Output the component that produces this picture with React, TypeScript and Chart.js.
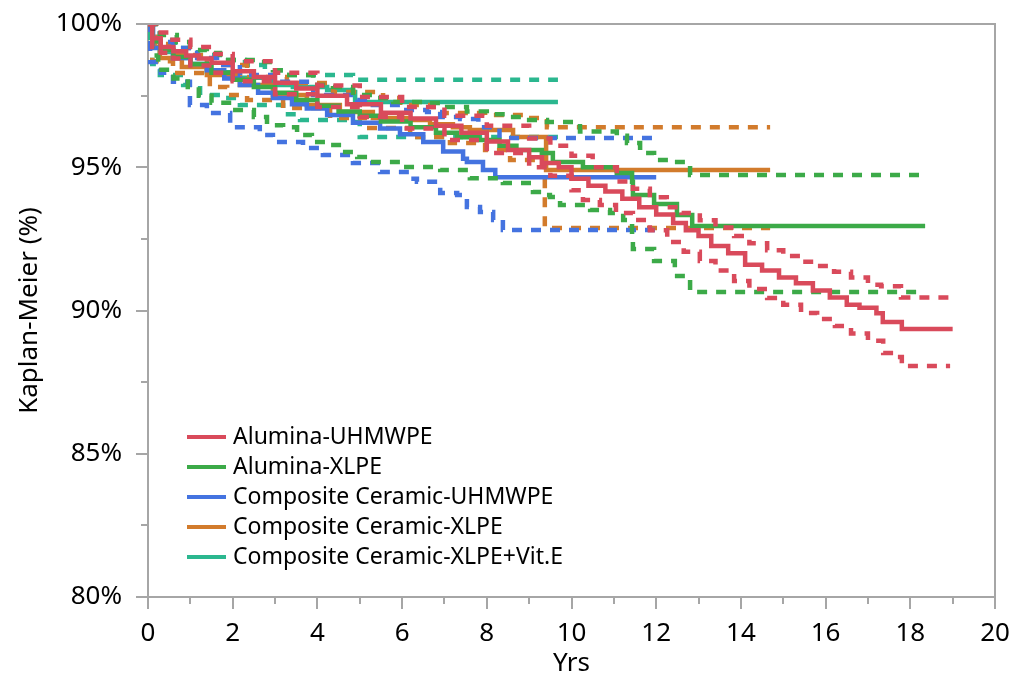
import React, { useEffect, useRef } from 'react';
import { Chart, registerables } from 'chart.js';

Chart.register(...registerables);

const FONT = '"Noto Sans", "Open Sans", sans-serif';

const seriesNames = [
  'Alumina-UHMWPE',
  'Alumina-XLPE',
  'Composite Ceramic-UHMWPE',
  'Composite Ceramic-XLPE',
  'Composite Ceramic-XLPE+Vit.E',
];
const seriesColors = ['#d94a5b', '#3caa48', '#4473e0', '#d27b2c', '#2bb78f'];

const xTickLabels = ['0', '2', '4', '6', '8', '10', '12', '14', '16', '18', '20'];
const yTickLabels = ['80%', '85%', '90%', '95%', '100%'];

// Alumina-UHMWPE
const aluUhmwpeYrs = [0, 0.1, 0.3, 0.6, 0.9, 1.2, 1.5, 2.0, 2.5, 3.0, 3.5, 4.0, 4.7, 5.5, 6.2, 6.8, 7.4, 8.0, 8.5, 9.0, 9.3, 9.7, 10.0, 10.4, 10.8, 11.2, 11.6, 12.0, 12.4, 12.7, 13.0, 13.3, 13.7, 14.1, 14.5, 14.9, 15.3, 15.7, 16.1, 16.5, 16.8, 17.2, 17.35, 17.8, 19.0];
const aluUhmwpeKM = [100, 99.5, 99.2, 99.05, 98.9, 98.8, 98.65, 98.35, 98.15, 97.95, 97.75, 97.5, 97.2, 96.9, 96.7, 96.45, 96.2, 95.9, 95.6, 95.35, 95.15, 95.0, 94.6, 94.35, 94.15, 93.9, 93.6, 93.35, 93.05, 92.8, 92.6, 92.25, 92.0, 91.6, 91.4, 91.15, 90.95, 90.7, 90.45, 90.2, 90.1, 89.9, 89.6, 89.35, 89.35];
const aluUhmwpeHiYrs = [0, 0.2, 0.5, 1.0, 1.5, 2.0, 3.0, 4.0, 5.0, 6.0, 7.0, 8.0, 9.0, 9.5, 10.0, 10.5, 11.07, 11.45, 11.85, 12.25, 12.6, 13.03, 13.4, 13.84, 14.2, 14.62, 15.0, 15.42, 15.8, 16.2, 16.6, 17.0, 17.31, 17.78, 18.94];
const aluUhmwpeHi = [100, 99.7, 99.45, 99.2, 98.95, 98.7, 98.3, 97.85, 97.45, 97.1, 96.8, 96.45, 96.0, 95.75, 95.4, 95.0, 94.5, 94.25, 93.95, 93.6, 93.4, 93.15, 92.9, 92.6, 92.35, 92.1, 91.9, 91.7, 91.55, 91.35, 91.15, 90.9, 90.85, 90.45, 90.45];
const aluUhmwpeLoYrs = [0, 0.1, 0.3, 0.6, 1.0, 1.5, 2.0, 3.0, 4.0, 5.0, 6.0, 7.0, 8.0, 9.0, 9.5, 10.0, 10.27, 10.67, 11.05, 11.45, 11.85, 12.26, 12.65, 13.03, 13.4, 13.84, 14.2, 14.62, 15.0, 15.42, 15.8, 16.22, 16.6, 17.0, 17.36, 17.76, 17.8, 18.94];
const aluUhmwpeLo = [100, 99.2, 99.0, 98.8, 98.55, 98.3, 98.0, 97.55, 97.1, 96.75, 96.35, 95.95, 95.5, 95.0, 94.7, 94.2, 93.86, 93.68, 93.4, 93.16, 92.8, 92.39, 92.05, 91.73, 91.4, 91.03, 90.75, 90.44, 90.2, 89.91, 89.7, 89.46, 89.2, 88.94, 88.52, 88.38, 88.06, 88.06];

// Alumina-XLPE
const aluXlpeYrs = [0, 0.1, 0.3, 0.6, 1.0, 1.5, 2.0, 2.5, 3.0, 3.5, 4.0, 4.5, 5.0, 5.5, 6.2, 6.8, 7.3, 7.8, 8.3, 8.7, 9.3, 9.56, 10.27, 11.07, 11.43, 11.45, 11.95, 12.49, 12.85, 18.35];
const aluXlpeKM = [100, 99.4, 99.1, 98.85, 98.6, 98.3, 98.05, 97.8, 97.6, 97.35, 97.15, 96.95, 96.8, 96.6, 96.4, 96.2, 96.05, 95.95, 95.75, 95.6, 95.5, 95.18, 95.0, 94.8, 94.49, 94.03, 93.72, 93.33, 92.95, 92.95];
const aluXlpeHiYrs = [0, 0.28, 0.68, 0.99, 1.39, 1.7, 2.57, 2.95, 3.19, 3.9, 4.37, 4.84, 5.31, 5.79, 6.59, 6.9, 7.53, 8.0, 8.55, 9.0, 9.42, 10.2, 11.07, 11.31, 11.62, 11.95, 12.33, 12.8, 18.35];
const aluXlpeHi = [100, 99.62, 99.37, 99.09, 98.99, 98.74, 98.67, 98.39, 98.22, 97.87, 97.8, 97.52, 97.42, 97.28, 97.24, 97.1, 96.95, 96.85, 96.75, 96.65, 96.58, 96.25, 96.1, 95.85, 95.5, 95.25, 95.18, 94.73, 94.73];
const aluXlpeLoYrs = [0, 0.1, 0.24, 0.6, 0.94, 1.2, 1.5, 2.0, 2.5, 2.81, 3.19, 3.52, 3.87, 4.25, 4.6, 4.94, 5.24, 6.02, 6.9, 7.6, 8.38, 9.09, 9.42, 9.49, 9.73, 10.44, 10.91, 11.22, 11.43, 11.45, 11.95, 12.44, 12.8, 18.35];
const aluXlpeLo = [100, 98.9, 98.4, 98.1, 97.8, 97.5, 97.25, 97.0, 96.75, 96.47, 96.4, 96.13, 95.88, 95.78, 95.53, 95.36, 95.18, 95.01, 94.9, 94.62, 94.45, 94.14, 94.03, 93.96, 93.68, 93.51, 93.4, 93.16, 92.6, 92.15, 91.73, 91.2, 90.65, 90.65];

// Composite Ceramic-UHMWPE
const ccUhmwpeYrs = [0, 0.12, 0.59, 1.0, 1.39, 1.8, 2.17, 2.6, 2.95, 3.4, 3.75, 4.23, 4.84, 5.48, 5.95, 6.5, 6.97, 7.44, 7.53, 7.91, 8.2, 12.0];
const ccUhmwpeKM = [100, 99.16, 98.81, 98.6, 98.39, 98.1, 97.87, 97.6, 97.42, 97.2, 97.05, 96.82, 96.55, 96.35, 96.15, 95.88, 95.55, 95.3, 95.18, 94.9, 94.65, 94.65];
const ccUhmwpeHiYrs = [0, 0.28, 0.59, 1.16, 1.63, 2.17, 2.95, 3.9, 4.94, 5.31, 5.95, 6.59, 6.9, 7.37, 7.8, 8.3, 12.0];
const ccUhmwpeHi = [100, 99.37, 99.16, 98.81, 98.57, 98.22, 97.98, 97.52, 97.35, 97.17, 97.0, 96.93, 96.75, 96.68, 96.4, 96.02, 96.02];
const ccUhmwpeLoYrs = [0, 0.05, 0.3, 0.59, 0.99, 1.39, 1.94, 2.64, 2.95, 3.66, 4.13, 4.84, 5.48, 6.19, 6.35, 6.9, 7.3, 7.53, 7.84, 8.15, 8.38, 12.0];
const ccUhmwpeLo = [100, 98.67, 98.3, 97.98, 97.17, 96.89, 96.4, 96.13, 95.88, 95.67, 95.43, 95.15, 94.83, 94.6, 94.49, 94.1, 94.03, 93.61, 93.44, 93.16, 92.81, 92.81];

// Composite Ceramic-XLPE
const ccXlpeYrs = [0, 0.1, 0.28, 0.8, 1.39, 2.17, 2.95, 3.75, 4.53, 5.31, 6.12, 6.66, 7.2, 7.6, 8.62, 9.4, 14.69];
const ccXlpeKM = [100, 99.2, 98.81, 98.5, 98.22, 97.87, 97.52, 97.17, 96.93, 96.72, 96.65, 96.5, 96.4, 96.3, 96.06, 94.9, 94.9];
const ccXlpeHiYrs = [0, 0.2, 0.52, 1.39, 2.34, 3.28, 4.37, 5.55, 5.95, 6.73, 6.9, 7.96, 8.95, 9.42, 14.69];
const ccXlpeHi = [100, 99.3, 98.92, 98.57, 98.15, 97.94, 97.63, 97.42, 97.17, 97.1, 96.89, 96.82, 96.72, 96.4, 96.4];
const ccXlpeLoYrs = [0, 0.1, 0.59, 1.46, 1.87, 2.34, 3.19, 4.3, 5.17, 6.19, 7.13, 7.96, 8.55, 9.37, 14.69];
const ccXlpeLo = [100, 98.7, 98.29, 97.8, 97.52, 97.35, 97.07, 96.72, 96.37, 96.06, 95.85, 95.6, 95.25, 92.88, 92.88];

// Composite Ceramic-XLPE+Vit.E
const ccVitEYrs = [0, 0.05, 0.28, 0.59, 1.0, 1.39, 2.17, 2.95, 3.42, 4.23, 4.84, 4.89, 9.68];
const ccVitEKM = [100, 99.51, 99.02, 98.81, 98.55, 98.32, 98.12, 97.87, 97.8, 97.7, 97.63, 97.28, 97.28];
const ccVitEHiYrs = [0, 0.1, 0.64, 1.18, 1.75, 2.29, 2.76, 3.19, 4.84, 9.68];
const ccVitEHi = [100, 99.44, 99.16, 98.92, 98.74, 98.57, 98.39, 98.22, 98.05, 98.05];
const ccVitELoYrs = [0, 0.1, 0.28, 0.83, 1.23, 1.77, 2.17, 3.19, 3.59, 4.82, 5.0, 9.68];
const ccVitELo = [100, 98.6, 98.22, 97.87, 97.52, 97.42, 97.17, 96.85, 96.65, 96.58, 96.06, 96.06];

const curves = [
  { s: 0, kind: 'km', xs: aluUhmwpeYrs, ys: aluUhmwpeKM },
  { s: 0, kind: 'hi', xs: aluUhmwpeHiYrs, ys: aluUhmwpeHi },
  { s: 0, kind: 'lo', xs: aluUhmwpeLoYrs, ys: aluUhmwpeLo },
  { s: 1, kind: 'km', xs: aluXlpeYrs, ys: aluXlpeKM },
  { s: 1, kind: 'hi', xs: aluXlpeHiYrs, ys: aluXlpeHi },
  { s: 1, kind: 'lo', xs: aluXlpeLoYrs, ys: aluXlpeLo },
  { s: 2, kind: 'km', xs: ccUhmwpeYrs, ys: ccUhmwpeKM },
  { s: 2, kind: 'hi', xs: ccUhmwpeHiYrs, ys: ccUhmwpeHi },
  { s: 2, kind: 'lo', xs: ccUhmwpeLoYrs, ys: ccUhmwpeLo },
  { s: 3, kind: 'km', xs: ccXlpeYrs, ys: ccXlpeKM },
  { s: 3, kind: 'hi', xs: ccXlpeHiYrs, ys: ccXlpeHi },
  { s: 3, kind: 'lo', xs: ccXlpeLoYrs, ys: ccXlpeLo },
  { s: 4, kind: 'km', xs: ccVitEYrs, ys: ccVitEKM },
  { s: 4, kind: 'hi', xs: ccVitEHiYrs, ys: ccVitEHi },
  { s: 4, kind: 'lo', xs: ccVitELoYrs, ys: ccVitELo },
];

const AXIS_GRAY = '#a6a6a6';

const framePlugin = {
  id: 'frameAndMinorTicks',
  afterDraw(chart: any) {
    const { ctx, chartArea: a, scales } = chart;
    ctx.save();
    ctx.strokeStyle = AXIS_GRAY;
    ctx.lineWidth = 2;
    ctx.beginPath();
    ctx.moveTo(a.left, a.top);
    ctx.lineTo(a.right, a.top);
    ctx.lineTo(a.right, a.bottom);
    ctx.stroke();
    ctx.beginPath();
    for (let v = 1; v < 20; v += 2) {
      const x = Math.round(scales.x.getPixelForValue(v));
      ctx.moveTo(x, a.bottom);
      ctx.lineTo(x, a.bottom + 7);
    }
    for (let v = 82.5; v < 100; v += 5) {
      const y = Math.round(scales.y.getPixelForValue(v));
      ctx.moveTo(a.left, y);
      ctx.lineTo(a.left - 7, y);
    }
    ctx.stroke();
    ctx.restore();
  },
};

const legendPlugin = {
  id: 'insideLegend',
  afterDraw(chart: any) {
    const { ctx } = chart;
    ctx.save();
    ctx.font = `23px ${FONT}`;
    ctx.textBaseline = 'middle';
    ctx.textAlign = 'left';
    seriesNames.forEach((name, i) => {
      const y = 437 + i * 30;
      ctx.strokeStyle = seriesColors[i];
      ctx.lineWidth = 4;
      ctx.beginPath();
      ctx.moveTo(187, y);
      ctx.lineTo(226, y);
      ctx.stroke();
      ctx.fillStyle = '#000';
      ctx.fillText(name, 233, y);
    });
    ctx.restore();
  },
};

export default function App() {
  const ref = useRef<HTMLCanvasElement>(null);
  useEffect(() => {
    document.body.style.margin = '0';
    const datasets = curves.map((c) => ({
      label: c.kind === 'km' ? seriesNames[c.s] : `${seriesNames[c.s]} ${c.kind === 'hi' ? 'upper' : 'lower'} CI`,
      data: c.xs.map((x, i) => ({ x, y: c.ys[i] })),
      borderColor: seriesColors[c.s],
      backgroundColor: seriesColors[c.s],
      borderWidth: 4.5,
      borderDash: c.kind === 'km' ? [] : [10, 9],
      stepped: 'before' as const,
      pointRadius: 0,
      fill: false,
    }));
    const tickFont = { family: FONT, size: 26 };
    const chart = new Chart(ref.current as HTMLCanvasElement, {
      type: 'line',
      data: { datasets },
      options: {
        responsive: false,
        animation: false,
        layout: { padding: { top: 24, right: 17, left: 0, bottom: 0 } },
        scales: {
          x: {
            type: 'linear',
            min: 0,
            max: 20,
            ticks: {
              stepSize: 2,
              color: '#000',
              font: tickFont,
              padding: 9,
              callback: (v: any) => xTickLabels[Math.round(Number(v) / 2)] ?? '',
            },
            grid: { drawOnChartArea: false, color: AXIS_GRAY, lineWidth: 2, tickLength: 12 },
            border: { color: AXIS_GRAY, width: 2 },
            title: { display: true, text: 'Yrs', color: '#000', font: tickFont, padding: { top: 0, bottom: 0 } },
            afterFit: (s: any) => { s.height = 82; s.paddingLeft = 0; s.paddingRight = 0; },
          },
          y: {
            type: 'linear',
            min: 80,
            max: 100,
            ticks: {
              stepSize: 5,
              color: '#000',
              font: tickFont,
              padding: 14,
              callback: (v: any) => yTickLabels[Math.round((Number(v) - 80) / 5)] ?? '',
            },
            grid: { drawOnChartArea: false, color: AXIS_GRAY, lineWidth: 2, tickLength: 12 },
            border: { color: AXIS_GRAY, width: 2 },
            title: { display: true, text: 'Kaplan-Meier (%)', color: '#000', font: tickFont, padding: { top: 14, bottom: 0 } },
            afterFit: (s: any) => { s.width = 148; s.paddingTop = 0; s.paddingBottom = 0; },
          },
        },
        plugins: { legend: { display: false }, tooltip: { enabled: false } },
      },
      plugins: [framePlugin, legendPlugin],
    });
    return () => chart.destroy();
  }, []);
  return <canvas ref={ref} width={1012} height={679} style={{ display: 'block' }} />;
}
